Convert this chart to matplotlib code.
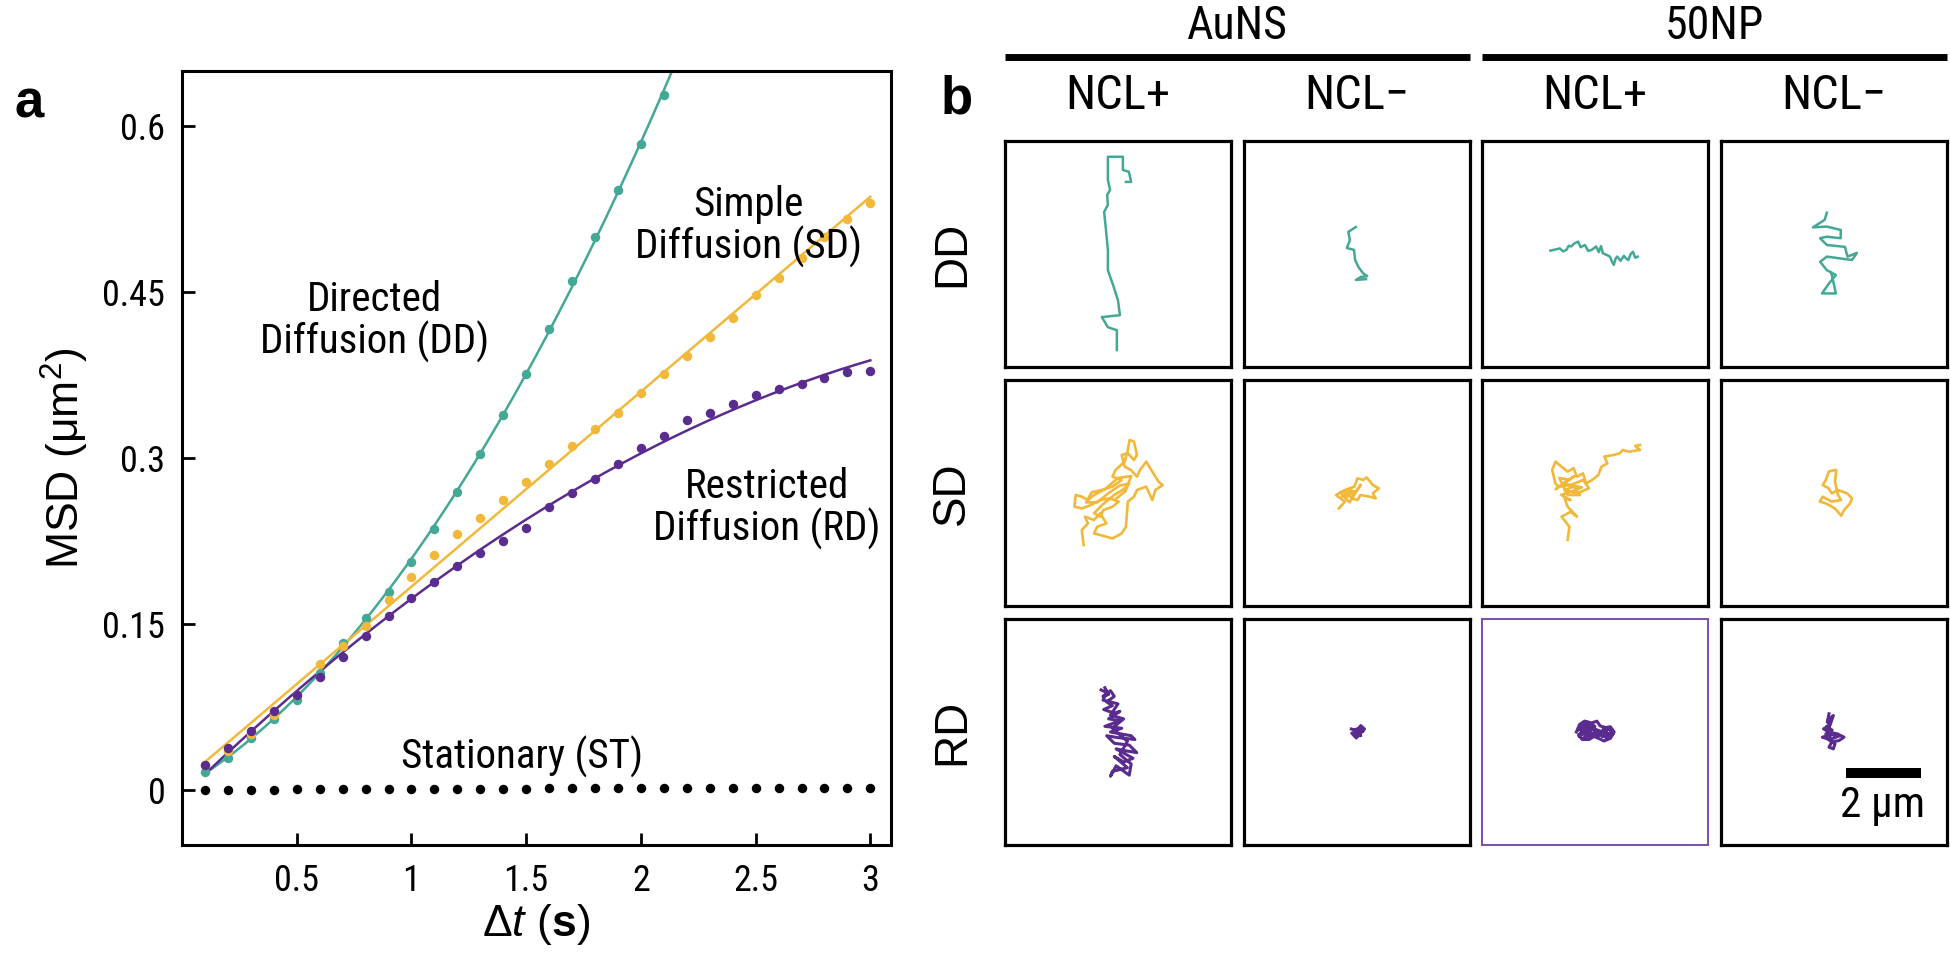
import matplotlib
matplotlib.use('Agg')
import matplotlib.pyplot as plt
import numpy as np
from matplotlib import font_manager

plt.rcParams['font.family'] = ['Liberation Sans', 'DejaVu Sans']
plt.rcParams['mathtext.fontset'] = 'custom'
plt.rcParams['mathtext.rm'] = 'Liberation Sans'
plt.rcParams['mathtext.it'] = 'Liberation Sans:italic'
plt.rcParams['mathtext.bf'] = 'Liberation Sans:bold'

# look for a narrow / condensed sans for the small texts
narrow_file = None
prefs = ['Liberation Sans Narrow', 'Arial Narrow', 'Roboto Condensed', 'DejaVu Sans',
         'Open Sans Condensed', 'Open Sans', 'Noto Sans', 'Roboto']
found = {}
for f in font_manager.fontManager.ttflist:
    if f.style != 'normal' or f.weight not in (400, 'normal', 'regular'):
        continue
    cond = ('Narrow' in f.name or 'Condensed' in f.name or 'Condensed' in f.fname
            or f.stretch in ('condensed', 'semi-condensed'))
    if cond and 'Mono' not in f.fname and 'Serif' not in f.fname:
        found.setdefault(f.name, f.fname)
for p in prefs:
    if p in found:
        narrow_file = found[p]
        break

def nfont(size):
    if narrow_file:
        return font_manager.FontProperties(fname=narrow_file, size=size)
    return font_manager.FontProperties(family='Liberation Sans', size=size * 0.88)

teal = '#43a896'
orange = '#f2b83a'
purple = '#5b2c8f'

# ---- panel a data: MSD vs lag time ----
dt = [0.1, 0.2, 0.3, 0.4, 0.5, 0.6, 0.7, 0.8, 0.9, 1.0,
      1.1, 1.2, 1.3, 1.4, 1.5, 1.6, 1.7, 1.8, 1.9, 2.0,
      2.1, 2.2, 2.3, 2.4, 2.5, 2.6, 2.7, 2.8, 2.9, 3.0]
msd_dd = [0.016, 0.029, 0.047, 0.064, 0.081, 0.106, 0.133, 0.155, 0.179, 0.206,
          0.236, 0.269, 0.304, 0.339, 0.376, 0.417, 0.460, 0.500, 0.542, 0.584,
          0.628]
msd_sd = [0.022, 0.035, 0.050, 0.068, 0.086, 0.114, 0.130, 0.148, 0.172, 0.192,
          0.212, 0.231, 0.246, 0.262, 0.278, 0.295, 0.311, 0.326, 0.341, 0.359,
          0.376, 0.392, 0.409, 0.427, 0.447, 0.463, 0.481, 0.500, 0.516, 0.531]
msd_rd = [0.022, 0.038, 0.053, 0.071, 0.086, 0.102, 0.120, 0.139, 0.157, 0.173,
          0.188, 0.202, 0.214, 0.225, 0.237, 0.256, 0.268, 0.281, 0.295, 0.309,
          0.320, 0.334, 0.341, 0.349, 0.357, 0.362, 0.367, 0.372, 0.378, 0.379]
msd_st = [0.0, 0.0, 0.0, 0.0, 0.0005, 0.0005, 0.0005, 0.0005, 0.001, 0.001,
          0.001, 0.001, 0.001, 0.001, 0.001, 0.0015, 0.0015, 0.0015, 0.0015, 0.0015,
          0.002, 0.002, 0.002, 0.002, 0.002, 0.002, 0.002, 0.002, 0.002, 0.002]

# ---- panel b data: trajectories (um, relative to box centre) ----
dd_auns_pos = [(-0.03, -2.56), (-0.03, -2.03), (-0.27, -1.95), (-0.43, -1.68), (0.05, -1.63),
               (0.0, -1.23), (-0.13, -0.83), (-0.27, -0.43), (-0.27, 0.11), (-0.32, 0.64),
               (-0.37, 1.12), (-0.27, 1.31), (-0.29, 1.57), (-0.21, 1.71), (-0.27, 1.97),
               (-0.27, 2.59), (0.13, 2.59), (0.13, 2.24), (0.29, 2.19), (0.35, 1.92), (0.21, 1.92)]
dd_auns_neg = [(-0.03, 0.72), (-0.23, 0.59), (-0.19, 0.37), (-0.27, 0.16), (-0.08, 0.11),
               (-0.05, -0.16), (0.04, -0.35), (0.16, -0.51), (0.27, -0.59), (0.11, -0.61),
               (-0.03, -0.69), (0.24, -0.67)]
dd_np_pos = [(-1.19, 0.09), (-1.05, 0.12), (-0.94, 0.15), (-0.85, 0.07), (-0.76, 0.11),
             (-0.70, 0.22), (-0.64, 0.2), (-0.55, 0.28), (-0.45, 0.33), (-0.38, 0.18),
             (-0.27, 0.24), (-0.18, 0.08), (-0.09, 0.11), (0.03, 0.2), (0.10, 0.05),
             (0.16, 0.21), (0.21, 0.02), (0.30, -0.02), (0.4, -0.07), (0.45, -0.2),
             (0.5, -0.29), (0.55, -0.12), (0.59, -0.07), (0.68, -0.18), (0.77, -0.05),
             (0.83, -0.12), (0.89, -0.16), (0.95, 0.0), (1.01, 0.06), (1.07, -0.1), (1.14, -0.07)]
dd_np_neg = [(-0.19, 1.10), (-0.25, 0.91), (-0.56, 0.71), (-0.19, 0.73), (0.18, 0.64),
             (0.18, 0.42), (-0.19, 0.46), (-0.37, 0.42), (-0.19, 0.24), (0.29, 0.19),
             (0.36, -0.07), (0.61, 0.03), (0.48, -0.16), (-0.19, -0.07), (-0.37, -0.21),
             (-0.19, -0.43), (0.05, -0.56), (-0.13, -0.78), (-0.32, -1.05), (0.05, -1.05),
             (-0.07, -0.51)]

sd_auns_pos = [(-0.915, -1.387), (-0.964, -0.987), (-0.80, -0.81), (-0.88, -0.63), (-0.637, -0.72),
               (-0.474, -0.54), (-0.31, -0.81), (-0.555, -0.90), (-0.637, -1.076), (-0.147, -1.21),
               (0.098, -1.076), (0.212, -0.90), (0.261, -0.23), (0.424, -0.10), (0.506, 0.08),
               (0.751, 0.17), (0.914, -0.19), (0.996, 0.08), (1.19, 0.21), (1.08, 0.30),
               (0.751, 0.835), (0.588, 0.613), (0.506, 0.435), (0.343, 0.613), (0.18, 0.70),
               (0.098, 1.013), (0.261, 1.058), (0.424, 0.88), (0.506, 1.013), (0.424, 1.369),
               (0.31, 1.413), (0.261, 1.147), (0.18, 0.835), (-0.065, 0.613), (-0.147, 0.435),
               (0.098, 0.346), (-0.147, 0.169), (-0.31, 0.124), (-0.474, 0.035), (-0.637, -0.054),
               (-0.80, -0.187), (-0.964, -0.098), (-1.127, -0.054), (-1.16, -0.365), (-0.964, -0.41),
               (-0.72, -0.32), (-0.474, -0.187), (-0.23, -0.143), (0.016, -0.23), (-0.147, -0.365),
               (-0.392, -0.454), (-0.474, -0.63), (-0.637, -0.54), (-0.40, -0.30), (-0.10, -0.05),
               (0.15, 0.10), (0.30, 0.25), (0.05, 0.20), (-0.25, 0.0), (-0.55, -0.25),
               (-0.85, -0.25), (-0.70, 0.02), (-0.35, 0.10), (0.0, 0.40), (0.35, 0.45),
               (0.20, 0.05), (-0.05, -0.15)]
sd_auns_neg = [(-0.483, -0.41), (-0.32, -0.23), (-0.56, -0.054), (-0.32, 0.08), (-0.07, 0.17),
               (0.011, 0.39), (0.174, 0.347), (0.256, 0.417), (0.42, 0.213), (0.583, 0.124),
               (0.42, -0.01), (0.5, -0.143), (0.337, -0.098), (0.093, -0.054), (0.011, -0.187),
               (-0.15, -0.143), (-0.23, -0.01), (-0.397, -0.098), (-0.15, 0.124), (-0.30, -0.12),
               (-0.05, 0.05), (-0.45, 0.02), (-0.20, -0.25), (0.10, 0.22), (-0.10, -0.05)]
sd_np_pos = [(1.2, 1.28), (1.07, 1.253), (1.2, 1.147), (0.905, 1.10), (0.74, 1.147),
             (0.66, 1.058), (0.50, 1.013), (0.25, 0.97), (0.33, 0.79), (0.17, 0.70),
             (0.09, 0.48), (-0.075, 0.346), (-0.24, 0.257), (-0.32, 0.524), (-0.48, 0.435),
             (-0.57, 0.66), (-0.73, 0.57), (-0.89, 0.70), (-1.055, 0.835), (-1.14, 0.613),
             (-1.055, 0.257), (-0.97, 0.17), (-0.65, 0.213), (-0.32, 0.346), (-0.16, 0.124),
             (-0.48, -0.01), (-0.81, 0.08), (-0.57, 0.17), (-0.40, -0.054), (-0.73, -0.054),
             (-0.95, 0.40), (-0.70, 0.35), (-1.05, 0.10), (-0.55, 0.45), (-0.85, 0.25),
             (-0.35, 0.15), (-0.60, 0.05), (-0.90, -0.05),
             (-0.65, -0.187), (-0.81, -0.143), (-0.73, -0.365), (-0.48, -0.63), (-0.65, -0.50),
             (-0.89, -0.63), (-0.68, -0.90), (-0.73, -1.25)]
sd_np_neg = [(0.025, 0.613), (-0.14, 0.57), (-0.22, 0.346), (-0.30, 0.213), (-0.14, 0.124),
             (-0.06, -0.01), (0.107, 0.08), (0.35, -0.01), (0.48, -0.143), (0.43, -0.276),
             (0.27, -0.454), (0.19, -0.605), (0.025, -0.41), (-0.22, -0.276), (-0.38, -0.23),
             (-0.30, -0.098), (-0.06, -0.23), (0.19, -0.187), (0.107, -0.054), (0.025, 0.30),
             (0.06, 0.595)]

rd_auns_pos = [(-0.35, 1.18), (-0.25, 1.0), (-0.4, 0.95), (-0.2, 1.1), (-0.1, 0.95),
               (-0.3, 0.8), (-0.15, 0.7), (-0.38, 0.6), (-0.1, 0.5), (0.05, 0.55),
               (-0.25, 0.35), (0.05, 0.3), (-0.35, 0.15), (0.1, 0.1), (-0.2, 0.0),
               (0.35, -0.1), (0.45, -0.2), (0.0, -0.15), (-0.3, -0.1), (-0.1, -0.3),
               (0.3, -0.35), (0.5, -0.55), (0.2, -0.5), (-0.05, -0.45), (0.4, -0.7),
               (0.15, -0.8), (-0.1, -0.65), (0.25, -0.95), (-0.15, -1.05), (-0.2, -1.18),
               (-0.05, -0.9), (0.3, -1.15), (0.35, -0.85), (0.05, -0.6), (0.25, -0.25),
               (-0.15, 0.1), (0.15, 0.35), (-0.2, 0.45), (0.0, 0.75), (-0.4, 0.85),
               (-0.3, 1.05), (-0.45, 1.12)]
rd_auns_neg = [(-0.15, 0.08), (0.0, 0.03), (0.1, 0.17), (0.2, 0.08), (0.08, -0.05),
               (-0.02, -0.16), (-0.14, -0.03), (0.02, 0.0), (0.16, 0.02), (0.05, 0.1),
               (-0.08, 0.05), (0.1, -0.1), (-0.05, -0.08)]
rd_np_pos = [(-0.497, 0.0), (-0.41, 0.2), (-0.28, 0.29), (-0.09, 0.24), (0.05, 0.29),
             (0.14, 0.16), (0.28, 0.12), (0.41, 0.14), (0.51, 0.0), (0.41, -0.17),
             (0.24, -0.24), (0.10, -0.17), (-0.03, -0.12), (-0.16, -0.2), (-0.34, -0.2),
             (-0.44, -0.08), (-0.30, 0.04), (-0.16, 0.16), (0.018, 0.07), (0.2, 0.0),
             (0.37, -0.05), (0.28, -0.13), (0.018, -0.05), (-0.207, -0.08), (-0.34, 0.12),
             (-0.45, 0.05), (-0.2, 0.26), (-0.35, 0.18), (-0.05, 0.2), (-0.4, -0.05),
             (0.0, 0.15), (-0.3, -0.16), (0.05, 0.02), (-0.15, -0.15), (0.1, -0.08),
             (0.25, 0.1), (0.45, 0.06), (0.3, -0.18), (0.48, -0.05), (0.2, -0.12),
             (0.35, 0.08), (0.15, 0.0), (-0.1, 0.08), (-0.42, -0.12), (-0.25, 0.22)]
rd_np_neg = [(-0.133, 0.485), (-0.178, 0.263), (-0.062, 0.396), (-0.018, 0.44), (-0.107, 0.174),
             (-0.28, 0.085), (-0.133, -0.004), (0.089, -0.049), (0.267, -0.138), (0.133, -0.227),
             (-0.062, -0.27), (-0.133, -0.404), (-0.018, -0.449), (0.027, -0.316), (-0.178, -0.182),
             (-0.31, -0.138), (-0.133, -0.093), (-0.2, 0.15), (-0.05, 0.05), (-0.22, -0.05),
             (0.15, -0.1), (-0.1, -0.2), (-0.15, 0.3)]

col_groups = ['AuNS', '50NP']
col_labels = ['NCL+', 'NCL\u2212', 'NCL+', 'NCL\u2212']
row_labels = ['DD', 'SD', 'RD']
row_colors = [teal, orange, purple]
row_widths = [1.8, 1.9, 2.2]
grid = [[dd_auns_pos, dd_auns_neg, dd_np_pos, dd_np_neg],
        [sd_auns_pos, sd_auns_neg, sd_np_pos, sd_np_neg],
        [rd_auns_pos, rd_auns_neg, rd_np_pos, rd_np_neg]]

W, H = 1950, 965
fig = plt.figure(figsize=(W / 100, H / 100), dpi=100)

def px_axes(x0, y0, x1, y1):
    return fig.add_axes([x0 / W, 1 - y1 / H, (x1 - x0) / W, (y1 - y0) / H])

# ---------------- panel a ----------------
ax = px_axes(182, 71, 891, 845)
t = np.array(dt)
tt = np.linspace(0.1, 3.0, 200)
p_dd = np.polyfit(t[:len(msd_dd)], msd_dd, 2)
p_sd = np.polyfit(t, msd_sd, 1)
p_rd = np.polyfit(t, msd_rd, 2)
ax.plot(tt, np.polyval(p_dd, tt), color=teal, lw=1.8)
ax.plot(tt, np.polyval(p_sd, tt), color=orange, lw=1.8)
ax.plot(tt, np.polyval(p_rd, tt), color=purple, lw=1.8)
ax.plot(t[:len(msd_dd)], msd_dd, 'o', color=teal, ms=6.8, mec='none')
ax.plot(t, msd_sd, 'o', color=orange, ms=6.8, mec='none')
ax.plot(t, msd_rd, 'o', color=purple, ms=6.8, mec='none')
ax.plot(t, msd_st, 'o', color='black', ms=6.8, mec='none', clip_on=False)

ax.set_xlim(0, 3.09)
ax.set_ylim(-0.05, 0.65)
ax.set_xticks([0.5, 1, 1.5, 2, 2.5, 3])
ax.set_xticklabels(['0.5', '1', '1.5', '2', '2.5', '3'])
ax.set_yticks([0, 0.15, 0.3, 0.45, 0.6])
ax.set_yticklabels(['0', '0.15', '0.3', '0.45', '0.6'])
ax.tick_params(direction='in', length=9, width=2)
ax.tick_params(axis='x', pad=13)
ax.tick_params(axis='y', pad=12)
for lab in ax.get_xticklabels() + ax.get_yticklabels():
    lab.set_fontproperties(nfont(26))
for s in ax.spines.values():
    s.set_linewidth(2.2)
ax.set_ylabel('MSD (\u03bcm$^2$)', fontsize=32, labelpad=8)
ax.set_xlabel(r'$\mathit{\Delta t}$ ($\mathbf{s}$)', fontsize=32, labelpad=2)

ax.text(0.84, 0.4235, 'Directed\nDiffusion (DD)', fontproperties=nfont(29.5), ha='center',
        va='center', linespacing=1.05)
ax.text(2.47, 0.509, 'Simple\nDiffusion (SD)', fontproperties=nfont(29.5), ha='center',
        va='center', linespacing=1.05)
ax.text(2.55, 0.254, 'Restricted\nDiffusion (RD)', fontproperties=nfont(29.5), ha='center',
        va='center', linespacing=1.05)
ax.text(1.48, 0.03, 'Stationary (ST)', fontproperties=nfont(29.5), ha='center', va='center')

fig.text(29 / W, 1 - 104 / H, 'a', fontsize=38, fontweight='bold', ha='center', va='center')
fig.text(957 / W, 1 - 100 / H, 'b', fontsize=38, fontweight='bold', ha='center', va='center')

# ---------------- panel b ----------------
col_left = [1005, 1244, 1482, 1721]
row_top = [141, 380, 619]
box = 226
for r in range(3):
    for c in range(4):
        bx = px_axes(col_left[c], row_top[r], col_left[c] + box, row_top[r] + box)
        pts = np.array(grid[r][c])
        bx.plot(pts[:, 0], pts[:, 1], color=row_colors[r], lw=row_widths[r],
                solid_joinstyle='round')
        bx.set_xlim(-3.01, 3.01)
        bx.set_ylim(-3.01, 3.01)
        bx.set_xticks([])
        bx.set_yticks([])
        for s in bx.spines.values():
            if r == 2 and c == 2:
                s.set_linewidth(1.4)
                s.set_color('#7b4fae')
            else:
                s.set_linewidth(2.3)
        if r == 0:
            fig.text((col_left[c] + box / 2) / W, 1 - 96 / H, col_labels[c],
                     fontproperties=nfont(35), ha='center', va='center')
        if c == 0:
            fig.text(952 / W, 1 - (row_top[r] + box / 2) / H, row_labels[r], fontsize=33,
                     rotation=90, ha='center', va='center')
        if r == 2 and c == 3:
            bx.plot([0.31, 2.31], [-1.08, -1.08], color='black', lw=7.2, solid_capstyle='butt')
            bx.text(1.29, -1.96, '2 \u03bcm', fontproperties=nfont(31), ha='center', va='center')

# group headers with bars
for g in range(2):
    x0 = col_left[2 * g]
    x1 = col_left[2 * g + 1] + box
    fig.text((x0 + x1) / 2 / W, 1 - 26 / H, col_groups[g], fontproperties=nfont(33),
             ha='center', va='center')
    fig.add_artist(plt.Line2D([x0 / W, x1 / W], [1 - 57 / H, 1 - 57 / H], color='black',
                              lw=5, solid_capstyle='butt'))

fig.savefig('out.png', dpi=100)
